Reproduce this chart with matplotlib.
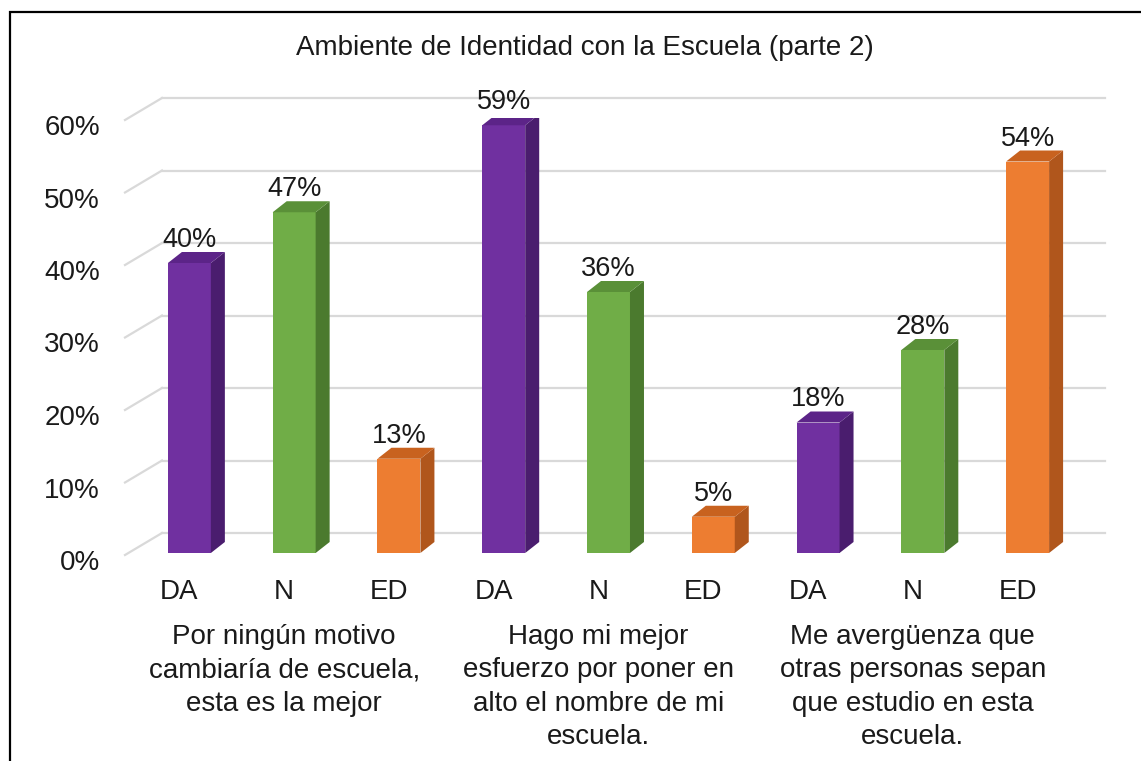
import matplotlib
matplotlib.use("Agg")
import matplotlib.pyplot as plt
from matplotlib.patches import Polygon, Rectangle
from matplotlib.transforms import ScaledTranslation

plt.rcParams['font.family'] = ['Liberation Sans', 'DejaVu Sans']

title = "Ambiente de Identidad con la Escuela (parte 2)"
categories = ["DA", "N", "ED", "DA", "N", "ED", "DA", "N", "ED"]
values = [0.40, 0.47, 0.13, 0.59, 0.36, 0.05, 0.18, 0.28, 0.54]
groups = ["Por ningún motivo\ncambiaría de escuela,\nesta es la mejor",
          "Hago mi mejor\nesfuerzo por poner en\nalto el nombre de mi\nescuela.",
          "Me avergüenza que\notras personas sepan\nque estudio en esta\nescuela."]
yticks = [0, 0.1, 0.2, 0.3, 0.4, 0.5, 0.6]

# front / side / top colours per answer
palette = {
    "DA": ("#7030A0", "#4A1D6E", "#5C2488"),
    "N": ("#70AD47", "#4B7A2E", "#5A9038"),
    "ED": ("#ED7D31", "#B0561C", "#C8621F"),
}

W, H = 1141, 761
fig = plt.figure(figsize=(W / 100, H / 100), dpi=100)
ax = fig.add_axes([137 / W, 1 - 553 / H, (1080 - 137) / W, 435 / H])
ax.set_xlim(-0.5, 8.5)
ax.set_ylim(0, 0.6)
ax.axis("off")

def px(dx, dy):
    # offset in pixels (dy positive = up)
    return ax.transData + ScaledTranslation(dx / 100, dy / 100, fig.dpi_scale_trans)

txt = "#1a1a1a"
fs = 20
grid_col = "#D9D9D9"
for v in yticks:
    ax.plot([-0.5, 8.5], [v, v], color=grid_col, lw=1.6, transform=px(25, 20), clip_on=False, zorder=1)
    # diagonal on the side wall
    p0 = px(-12, -2).transform((-0.5, v))
    p1 = px(25, 20).transform((-0.5, v))
    ax.add_line(plt.Line2D([p0[0], p1[0]], [p0[1], p1[1]], color=grid_col, lw=1.6,
                           transform=None, clip_on=False, zorder=1))
    ax.text(-0.5, v, "{:.0%}".format(v), transform=px(-37, -10), ha="right", va="center",
            fontsize=fs, color=txt, clip_on=False)

bw = 0.41
ddx, ddy = 14, 11
for i, (cat, v) in enumerate(zip(categories, values)):
    front, side, top = palette[cat]
    ax.bar(i, v, width=bw, color=front, zorder=3)
    (x0, y0) = ax.transData.transform((i - bw / 2, 0))
    (x1, y1) = ax.transData.transform((i + bw / 2, v))
    side_poly = Polygon([(x1, y0), (x1 + ddx, y0 + ddy), (x1 + ddx, y1 + ddy), (x1, y1)],
                        closed=True, transform=None, facecolor=side, edgecolor="none", zorder=3)
    top_poly = Polygon([(x0, y1), (x1, y1), (x1 + ddx, y1 + ddy), (x0 + ddx, y1 + ddy)],
                       closed=True, transform=None, facecolor=top, edgecolor="none", zorder=3)
    ax.add_patch(side_poly)
    ax.add_patch(top_poly)
    ax.text(i, v, "{:.0%}".format(v), transform=px(0, 16), ha="center", va="baseline",
            fontsize=19.5, color=txt, clip_on=False, zorder=4)
    ax.text(i, 0, cat, transform=px(-10, -39), ha="center", va="center",
            fontsize=fs, color=txt, clip_on=False)

for g, label in enumerate(groups):
    ax.text(g * 3 + 1, 0, label, transform=px(-10, -71), ha="center", va="top",
            fontsize=fs, color=txt, linespacing=1.37, clip_on=False)

fig.text(585 / W, 1 - 48 / H, title, ha="center", va="center", fontsize=20, color=txt)

# outer chart border (right and bottom edges fall outside the picture)
fig.patches.append(Rectangle((10 / W, -0.1), 1.2, 1 - 12 / H + 0.1, transform=fig.transFigure,
                             fill=False, edgecolor="black", lw=1.6))

fig.savefig("out.png", dpi=100)
